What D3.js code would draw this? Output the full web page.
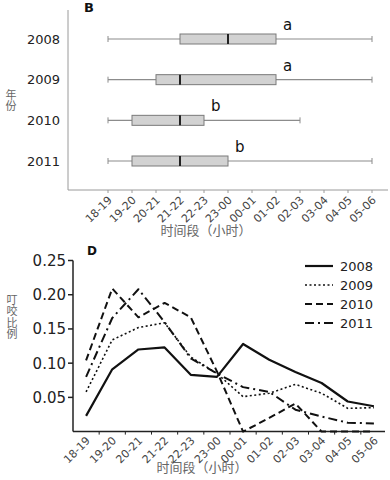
<!DOCTYPE html>
<html><head><meta charset="utf-8">
<script src="https://cdn.jsdelivr.net/npm/d3@7/dist/d3.min.js"></script>
<style>
html,body{margin:0;padding:0;background:#fff;}
svg{display:block;}
</style></head>
<body>
<svg id="chart" width="390" height="480"></svg>
<script>
// ---------- DATA ----------
const hours = ["18-19","19-20","20-21","21-22","22-23","23-00","00-01","01-02","02-03","03-04","04-05","05-06"];
// Panel B: box plots by year (values are time slots)
const boxYears = ["2008","2009","2010","2011"];
const boxMin    = ["18-19","18-19","18-19","18-19"];
const boxQ1     = ["21-22","20-21","19-20","19-20"];
const boxMedian = ["23-00","21-22","21-22","21-22"];
const boxQ3     = ["01-02","01-02","22-23","23-00"];
const boxMax    = ["05-06","05-06","02-03","05-06"];
const boxLetters = ["a","a","b","b"];
// Panel D: biting proportion by time slot
const seriesNames = ["2008","2009","2010","2011"];
const s2008 = [0.023,0.091,0.120,0.123,0.083,0.080,0.128,0.105,0.087,0.071,0.044,0.037];
const s2009 = [0.058,0.134,0.152,0.159,0.109,0.085,0.051,0.056,0.069,0.056,0.034,0.035];
const s2010 = [0.104,0.209,0.167,0.188,0.167,0.088,0.000,0.020,0.041,0.000,0.000,0.000];
const s2011 = [0.080,0.166,0.208,0.160,0.107,0.085,0.065,0.058,0.032,0.022,0.013,0.012];
const yTicksD = [0.05,0.10,0.15,0.20,0.25];
const xTitle = "时间段（小时）";
const yTitleB = "年份";
const yTitleD = "叮咬比例";

// ---------- DRAW ----------
const svg = d3.select("#chart");
const numFont = "'DejaVu Sans', Verdana, sans-serif";
const cjkFont = "'Noto Sans CJK SC', sans-serif";

function verticalText(g, text, x, y0, size) {
  g.append("text").attr("x", x).attr("y", y0)
    .style("writing-mode", "vertical-rl").style("text-orientation", "upright")
    .style("letter-spacing", "0.5px")
    .attr("font-family", cjkFont).attr("font-size", size).attr("fill", "#666").text(text);
}

// ===== Panel B =====
const gB = svg.append("g");
const xB = d3.scalePoint().domain(hours).range([108, 372]);
const yB = d3.scalePoint().domain(boxYears).range([39, 161]);
const axisBY = 190, axisBX = 68;

gB.append("line").attr("x1", axisBX).attr("x2", axisBX).attr("y1", 10).attr("y2", axisBY)
  .attr("stroke", "#9a9a9a").attr("stroke-width", 1);
gB.append("line").attr("x1", axisBX).attr("x2", 388).attr("y1", axisBY).attr("y2", axisBY)
  .attr("stroke", "#9a9a9a").attr("stroke-width", 1);
gB.selectAll("line.tk").data(hours).join("line").attr("class","tk")
  .attr("x1", d => xB(d)).attr("x2", d => xB(d)).attr("y1", axisBY).attr("y2", axisBY + 3)
  .attr("stroke", "#9a9a9a");
gB.selectAll("text.xl").data(hours).join("text").attr("class","xl")
  .attr("transform", d => `translate(${xB(d) + 2},${axisBY + 8}) rotate(-45)`)
  .attr("text-anchor", "end").attr("dy", "0.35em")
  .attr("font-family", numFont).attr("font-size", 11).attr("fill", "#444")
  .text(d => d);
gB.selectAll("text.yl").data(boxYears).join("text").attr("class","yl")
  .attr("x", 60).attr("y", d => yB(d)).attr("dy", "0.36em")
  .attr("text-anchor", "end").attr("font-family", numFont).attr("font-size", 13).attr("fill", "#222")
  .text(d => d);

const boxH = 10;
const boxes = boxYears.map((y, i) => ({y, min: boxMin[i], q1: boxQ1[i], med: boxMedian[i], q3: boxQ3[i], max: boxMax[i], letter: boxLetters[i]}));
const bg = gB.selectAll("g.box").data(boxes).join("g").attr("class", "box");
bg.append("line").attr("x1", d => xB(d.min)).attr("x2", d => xB(d.max))
  .attr("y1", d => yB(d.y)).attr("y2", d => yB(d.y)).attr("stroke", "#8c8c8c").attr("stroke-width", 1.2);
bg.append("line").attr("x1", d => xB(d.min)).attr("x2", d => xB(d.min))
  .attr("y1", d => yB(d.y) - 3).attr("y2", d => yB(d.y) + 3).attr("stroke", "#8c8c8c");
bg.append("line").attr("x1", d => xB(d.max)).attr("x2", d => xB(d.max))
  .attr("y1", d => yB(d.y) - 3).attr("y2", d => yB(d.y) + 3).attr("stroke", "#8c8c8c");
bg.append("rect").attr("x", d => xB(d.q1)).attr("width", d => xB(d.q3) - xB(d.q1))
  .attr("y", d => yB(d.y) - boxH / 2).attr("height", boxH)
  .attr("fill", "#d2d2d2").attr("stroke", "#7a7a7a").attr("stroke-width", 1);
bg.append("line").attr("x1", d => xB(d.med)).attr("x2", d => xB(d.med))
  .attr("y1", d => yB(d.y) - boxH / 2).attr("y2", d => yB(d.y) + boxH / 2)
  .attr("stroke", "#222").attr("stroke-width", 2);
bg.append("text").attr("x", d => xB(d.q3) + 7).attr("y", d => yB(d.y) - 9)
  .attr("font-family", numFont).attr("font-size", 15).attr("fill", "#111")
  .text(d => d.letter);

gB.append("text").attr("x", 84).attr("y", 12).attr("font-family", numFont)
  .attr("font-weight", "bold").attr("font-size", 13).attr("fill", "#111").text("B");
gB.append("text").attr("x", 206).attr("y", 235).attr("text-anchor", "middle")
  .attr("font-family", cjkFont).attr("font-size", 13).attr("fill", "#666").text(xTitle);
verticalText(gB, yTitleB, 11, 89, 11);

// ===== Panel D =====
const gD = svg.append("g");
const xD = d3.scaleBand().domain(hours).range([73, 387]);
const yD = d3.scaleLinear().domain([0, 0.25]).range([431.6, 260.5]);
const axD = 431.6, axDX = 73;

gD.append("line").attr("x1", axDX).attr("x2", axDX).attr("y1", yD(0.25)).attr("y2", axD)
  .attr("stroke", "#222").attr("stroke-width", 1.5);
gD.append("line").attr("x1", axDX).attr("x2", 385).attr("y1", axD).attr("y2", axD)
  .attr("stroke", "#222").attr("stroke-width", 1.5);
gD.selectAll("line.yt").data(yTicksD).join("line").attr("class","yt")
  .attr("x1", axDX - 5).attr("x2", axDX).attr("y1", d => yD(d)).attr("y2", d => yD(d))
  .attr("stroke", "#222").attr("stroke-width", 1.5);
gD.selectAll("text.ytl").data(yTicksD).join("text").attr("class","ytl")
  .attr("x", axDX - 7).attr("y", d => yD(d)).attr("dy", "0.36em").attr("text-anchor", "end")
  .attr("font-family", numFont).attr("font-size", 15).attr("fill", "#222")
  .text(d => d3.format(".2f")(d));
gD.selectAll("line.xt").data(hours.slice(1)).join("line").attr("class","xt")
  .attr("x1", d => xD(d)).attr("x2", d => xD(d)).attr("y1", axD).attr("y2", axD + 3)
  .attr("stroke", "#222");
gD.selectAll("text.xl").data(hours).join("text").attr("class","xl")
  .attr("transform", d => `translate(${xD(d) + xD.bandwidth() / 2 + 2},${axD + 7}) rotate(-45)`)
  .attr("text-anchor", "end").attr("dy", "0.35em")
  .attr("font-family", numFont).attr("font-size", 11).attr("fill", "#444")
  .text(d => d);

const allSeries = [s2008, s2009, s2010, s2011];
const dashes = [null, "2,2.5", "7,4", "9,4,2,4"];
const widths = [2.2, 1.6, 2, 2];
const line = d3.line().x((d, i) => xD(hours[i]) + xD.bandwidth() / 2).y(d => yD(d));
gD.selectAll("path.s").data(allSeries).join("path").attr("class","s")
  .attr("d", d => line(d)).attr("fill", "none").attr("stroke", "#111")
  .attr("stroke-width", (d, i) => widths[i]).attr("stroke-dasharray", (d, i) => dashes[i])
  .attr("stroke-linejoin", "round");

const lg = gD.selectAll("g.lg").data(seriesNames).join("g").attr("class","lg")
  .attr("transform", (d, i) => `translate(305,${266 + i * 19})`);
lg.append("line").attr("x1", 0).attr("x2", 28).attr("y1", 0).attr("y2", 0)
  .attr("stroke", "#111").attr("stroke-width", (d, i) => widths[i])
  .attr("stroke-dasharray", (d, i) => dashes[i]);
lg.append("text").attr("x", 35).attr("y", 0).attr("dy", "0.36em")
  .attr("font-family", numFont).attr("font-size", 13).attr("fill", "#222").text(d => d);

gD.append("text").attr("x", 87).attr("y", 255).attr("font-family", numFont)
  .attr("font-weight", "bold").attr("font-size", 12).attr("fill", "#111").text("D");
gD.append("text").attr("x", 202).attr("y", 472).attr("text-anchor", "middle")
  .attr("font-family", cjkFont).attr("font-size", 13).attr("fill", "#666").text(xTitle);
verticalText(gD, yTitleD, 12, 294, 11);
</script>
</body></html>
